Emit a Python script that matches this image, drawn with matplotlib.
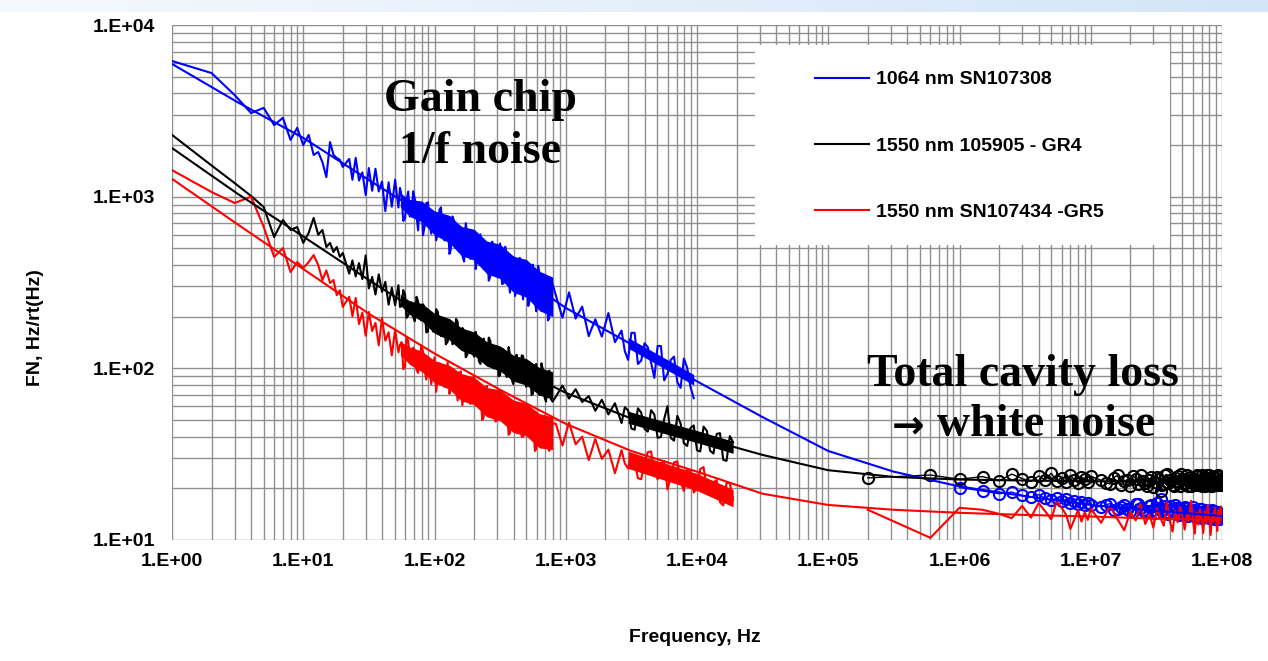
import numpy as np
import matplotlib
matplotlib.use("Agg")
import matplotlib.pyplot as plt
from matplotlib.patches import Rectangle
from matplotlib.ticker import LogLocator, NullFormatter
from matplotlib.colors import LinearSegmentedColormap

# ---- data ----
# low frequency part (1 Hz bins)
f_lo = [1, 2, 3, 4, 5, 6, 7, 8, 9, 10, 11, 12, 13, 14, 15, 16, 17, 18, 19, 20]
blue_lo = [6170, 5250, 3910, 3070, 3290, 2610, 2880, 2140, 2520, 2000,
           2290, 1750, 1820, 1590, 1300, 2080, 1750, 1680, 1640, 1490]
black_lo = [2290, 1520, 1200, 1010, 870, 582, 731, 640, 665, 538,
            615, 752, 600, 640, 509, 538, 476, 509, 446, 470]
red_lo = [1428, 1065, 919, 1000, 666, 446, 502, 364, 416, 384,
          416, 457, 400, 327, 372, 314, 327, 267, 285, 228]

# first span, up to ~800 Hz
f_mid = [22.4, 23.7, 25.1, 26.6, 28.2, 29.9, 31.6, 33.5, 35.5, 37.6,
         39.8, 42.2, 44.7, 47.3, 50.1, 53.1, 56.2, 59.6, 63.1, 66.8,
         70.8, 75.0, 79.4, 84.1, 89.1, 94.4, 100, 106, 112, 119,
         126, 133, 141, 150, 158, 168, 178, 188, 200, 211,
         224, 237, 251, 266, 282, 299, 316, 335, 355, 376,
         398, 422, 447, 473, 501, 531, 562, 596, 631, 668,
         708, 750, 794]
blue_mid = [1660, 1254, 1683, 1241, 1385, 1022, 1469, 1083, 1454, 1072,
            1225, 824, 1212, 874, 1256, 865, 1010, 745, 1072, 790,
            967, 636, 893, 674, 926, 609, 780, 616, 866, 556,
            729, 491, 722, 520, 667, 419, 602, 434, 624, 429,
            603, 379, 520, 342, 515, 354, 533, 312, 449, 276,
            445, 292, 440, 252, 388, 249, 402, 215, 355, 218,
            343, 197, 310]
black_mid = [356, 425, 343, 410, 331, 455, 292, 341, 269, 353,
             279, 319, 235, 295, 233, 305, 230, 269, 203, 243,
             188, 246, 190, 227, 164, 210, 166, 213, 154, 189,
             143, 188, 142, 187, 132, 166, 120, 162, 117, 150,
             106, 149, 108, 145, 100, 132, 91, 129, 89, 120,
             81, 120, 83, 118, 78, 108, 71, 106, 70, 99,
             64, 97, 64]
red_mid = [261, 201, 257, 181, 211, 155, 213, 165, 184, 136,
           196, 145, 162, 119, 168, 124, 142, 102, 144, 114,
           125, 94, 136, 98, 115, 81, 116, 90, 101, 78,
           108, 78, 94, 65, 96, 73, 81, 62, 89, 63,
           76, 52, 79, 58, 67, 50, 73, 51, 62, 42,
           64, 47, 54, 40, 60, 41, 51, 34, 53, 39,
           45, 33, 48]

# extra bins inside the dense part of the first span
f_mid2 = [54.6, 57.8, 61.2, 64.9, 68.8, 72.9, 77.2, 81.8, 86.6, 91.7,
          97.2, 103, 109, 116, 122, 130, 137, 146, 154, 163,
          173, 184, 194, 206, 218, 231, 245, 259, 275, 291,
          308, 327, 346, 367, 388, 411, 436, 462, 489, 518,
          549, 582, 616, 653, 692, 733, 772]
blue_mid2 = [1124, 722, 947, 766, 1076, 775, 906, 596, 918, 709,
             791, 557, 839, 605, 675, 464, 767, 516, 617, 455,
             701, 494, 591, 379, 585, 421, 481, 324, 547, 385,
             482, 310, 511, 328, 393, 264, 426, 300, 422, 231,
             355, 250, 395, 216, 310, 190, 321]
black_mid2 = [228, 286, 197, 241, 199, 261, 197, 236, 162, 208,
              164, 221, 171, 196, 138, 182, 138, 194, 144, 172,
              116, 160, 127, 163, 110, 138, 109, 151, 106, 128,
              90, 127, 99, 133, 86, 109, 84, 119, 83, 104,
              70, 104, 77, 107, 67, 89, 66]
red_mid2 = [137, 99, 150, 110, 132, 98, 114, 125, 86, 110,
            96, 73, 107, 81, 91, 71, 99.5, 79, 86, 61,
            86, 68, 88, 61, 73, 50, 76, 61, 65, 49,
            71, 52, 62, 41, 62, 51, 54, 40, 58, 43,
            48, 33, 50, 41, 53, 35, 42]

# second span 800 Hz .. 20 kHz
f_hi = [841, 944, 1059, 1189, 1334, 1496, 1679, 1884, 2113, 2371,
        2661, 2985, 3350, 3758, 4217, 4732, 5309, 5957, 6683, 7499,
        8414, 9441, 10590, 11890, 13340, 14960, 16790, 18840]
blue_hi = [266, 197, 277, 195, 229, 154, 193, 153, 210, 142,
           166, 112, 161, 111, 133, 88, 135, 93, 117, 77,
           101, 67]
black_hi = [68.4, 79.4, 66.7, 75.6, 63.6, 68.9, 56.6, 65.6, 53.9, 62.6,
            48.0, 57.0, 43.9, 55.2, 42.8, 53.8, 39.8, 60.2, 37.9, 47.7,
            35.3, 46.5, 32.8, 43.2, 31.9, 41.9, 28.9, 37.1]
red_hi = [47.5, 35.5, 48.3, 36.1, 40.0, 29.2, 38.8, 29.7, 33.6, 24.5,
          33.4, 26.1, 28.6, 22.6, 32.5, 25.1, 28.0, 19.7, 28.3, 22.0,
          25.6, 18.9, 25.9, 19.7, 21.7, 16.6, 21.5, 17.1]
f_hi2 = [2818, 3162, 3548, 3981, 4467, 5012, 5623, 6310, 7079, 7943,
         8913, 10000, 11220, 12590, 14130, 15850, 17780]
blue_hi2 = [126, 161, 106, 140, 108, 135, 85, 112, 83, 114, 78]
black_hi2 = [59.3, 44.6, 58.5, 44.4, 57.1, 39.4, 50.7, 39.3, 52.9, 36.6,
             44.9, 33.3, 45.8, 33.1, 41.5, 29.3, 40.3]
red_hi2 = [27.9, 31.7, 22.9, 28.0, 32.8, 22.6, 28.9, 23.4, 28.7, 19.3,
           25.3, 20.0, 26.6, 18.9, 22.3, 15.9, 21.5]

# solid core of the noise bands (lower / upper edge)
band_f_mid = [55, 65, 80, 100, 130, 160, 200, 250, 316, 400, 500, 630, 794]
blue_band_lo = [870, 765, 715, 598, 538, 454, 427, 356, 333, 277, 260, 217, 200]
blue_band_hi = [1046, 963, 943, 826, 778, 671, 646, 552, 528, 450, 431, 368, 340]
black_band_lo = [233, 205, 189, 160, 146, 127, 119, 103, 96.4, 84.1, 79.9, 69.8, 66.1]
black_band_hi = [270, 246, 239, 209, 195, 172, 163, 143, 135, 119, 114, 101, 95.5]
red_band_lo = [119, 105, 95.7, 82.4, 75.5, 64.6, 61.5, 52.2, 49.5, 42.2, 40.4, 34.4, 33.6]
red_band_hi = [143, 133, 126, 111, 104, 93.3, 88.9, 77.3, 75, 65.3, 62.5, 54.5, 52.1]
band_f_hi = [2985, 5000, 9441]
blue_band2_lo = [131, 105, 80]
blue_band2_hi = [151, 121, 92]
band_f_hi_b = [2985, 5000, 10000, 18840]
black_band2_lo = [47.9, 42.8, 36.9, 32.0]
black_band2_hi = [56.3, 50.2, 43.4, 37.6]
red_band2_lo = [26.1, 23.0, 19.4, 15.6]
red_band2_hi = [32.9, 28.9, 24.4, 19.7]

# RF span (circles)
f_rf = [2e5, 6e5, 1e6, 1.5e6, 2e6, 2.5e6, 3e6, 3.5e6, 4e6, 4.5e6,
        5e6, 5.5e6, 6e6, 6.5e6, 7e6, 7.5e6, 8e6, 8.5e6, 9e6, 9.5e6,
        1e7, 12e6, 14e6, 16e6, 18e6, 20e6, 22e6, 24e6, 26e6, 28e6,
        30e6, 32e6, 34e6, 36e6, 38e6, 40e6, 42e6, 44e6, 46e6, 48e6,
        50e6, 52e6, 54e6, 56e6, 58e6, 60e6, 62e6, 64e6, 66e6, 68e6,
        70e6, 72e6, 74e6, 76e6, 78e6, 80e6, 82e6, 84e6, 86e6, 88e6,
        90e6, 92e6, 94e6, 96e6, 98e6, 100e6]
black_rf = [23.0, 23.9, 22.6, 23.4, 22.1, 24.2, 22.8, 21.9, 23.6, 22.4,
            24.5, 22.0, 23.1, 21.7, 23.8, 22.5, 21.4, 23.2, 22.7, 21.8,
            23.5, 22.3, 21.2, 23.8, 22.0, 20.7, 22.8, 24.0, 21.5, 22.4,
            20.4, 23.4, 19.2, 21.3, 24.1, 22.5, 20.8, 22.2, 23.6, 20.6,
            22.6, 21.5, 23.9, 22.1, 20.5, 23.1, 21.2, 23.6, 22.0, 20.9,
            24.0, 22.4, 20.6, 22.8, 21.4, 23.8, 22.2, 20.5, 23.3, 21.7,
            22.9, 20.9, 24.0, 22.1, 21.2, 23.0]
blue_rf = [20.2, 19.3, 18.6, 19.0, 18.2, 17.8, 18.4, 17.5, 17.0, 17.6,
           16.8, 17.3, 16.5, 16.9, 16.2, 16.7, 15.9, 16.4, 16.0,
           15.6, 16.3, 15.1, 15.9, 14.8, 16.1, 15.3, 14.6, 15.8, 15.0,
           16.4, 17.4, 15.2, 14.5, 15.7, 14.9, 15.9, 14.3, 15.4, 14.7,
           15.6, 14.1, 15.0, 14.4, 15.5, 13.9, 14.8, 14.2, 15.2, 13.7,
           14.6, 14.0, 15.0, 13.6, 14.4, 13.8, 14.9, 13.4, 14.3, 13.7,
           14.6, 13.3, 14.1, 13.5, 14.2]
red_rf = [15.0, 10.3, 15.4, 15.0, 14.2, 13.4, 15.8, 13.5, 16.4, 14.7,
          13.2, 16.8, 15.4, 14.0, 11.6, 13.2, 14.9, 12.8, 14.5, 13.1,
          15.2, 12.6, 15.8, 13.2, 11.4, 14.6, 13.0, 16.2, 12.4, 14.1,
          11.8, 15.3, 13.4, 12.1, 16.6, 13.0, 11.2, 14.8, 12.7, 15.6,
          13.6, 11.5, 14.3, 12.9, 16.9, 13.1, 10.9, 14.5, 12.3, 15.1,
          13.3, 11.0, 14.7, 12.6, 16.0, 13.4, 10.7, 14.2, 12.8, 15.4,
          13.0, 11.3, 14.9, 12.5, 15.7, 13.6]
# extra RF bins between 10 and 100 MHz
f_rf2 = [13e6, 15e6, 17e6, 19e6, 21e6, 23e6, 25e6, 27e6, 29e6, 31e6,
         33e6, 35e6, 37e6, 39e6, 41e6, 43e6, 45e6, 47e6, 49e6, 51e6,
         53e6, 55e6, 57e6, 59e6, 61e6, 63e6, 65e6, 67e6, 69e6, 71e6,
         73e6, 75e6, 77e6, 79e6, 81e6, 83e6, 85e6, 87e6, 89e6, 91e6,
         93e6, 95e6, 97e6, 99e6]
black_rf2 = [21.6, 23.1, 20.8, 22.5, 23.7, 21.2, 22.0, 20.6, 23.3, 21.8,
             22.6, 20.9, 23.9, 21.4, 22.3, 20.5, 23.0, 21.9, 24.1, 21.1,
             22.7, 20.7, 23.4, 21.6, 22.2, 20.8, 23.8, 21.3, 22.5, 20.6,
             23.2, 21.8, 24.0, 21.0, 22.4, 20.7, 23.5, 21.5, 22.9, 20.9,
             23.7, 21.4, 22.3, 21.0]
blue_rf2 = [16.0, 14.9, 15.6, 15.2, 14.5, 16.2, 15.0, 14.7, 15.9, 14.4,
            15.3, 14.8, 15.7, 14.2, 15.1, 14.6, 15.4, 13.9, 14.9, 14.3,
            15.3, 13.8, 14.7, 14.1, 15.0, 13.6, 14.5, 14.0, 15.1, 13.5,
            14.4, 13.9, 14.8, 13.4, 14.2, 13.7, 14.7, 13.3, 14.1, 13.6,
            14.5, 13.2, 14.0, 13.5]

# model fits
f_fit = [1, 3.16, 10, 31.6, 100, 316, 1e3, 3.16e3, 1e4, 3.16e4,
         1e5, 3.16e5, 1e6, 3.16e6, 1e7, 3.16e7, 1e8]
blue_fit = [5930, 3550, 2200, 1250, 720, 410, 225, 138, 84, 52,
            33, 25, 20.5, 18, 16, 14.8, 13.8]
black_fit = [1920, 1040, 586, 327, 186, 112, 72, 51, 40, 31.3,
             25.5, 23.3, 22.5, 22.2, 22, 21.9, 21.8]
red_fit = [1270, 690, 379, 208, 122, 75, 47.5, 33, 25, 18.6,
           16, 15, 14.4, 14, 13.7, 13.3, 13.1]

labels = ['1064 nm SN107308', '1550 nm 105905 - GR4', '1550 nm SN107434 -GR5']
x_ticks = [1, 1e1, 1e2, 1e3, 1e4, 1e5, 1e6, 1e7, 1e8]
x_tick_labels = ['1.E+00', '1.E+01', '1.E+02', '1.E+03', '1.E+04',
                 '1.E+05', '1.E+06', '1.E+07', '1.E+08']
y_ticks = [1e1, 1e2, 1e3, 1e4]
y_tick_labels = ['1.E+01', '1.E+02', '1.E+03', '1.E+04']


def spectrum(*parts):
    # join (freq, value) pieces into one trace sorted by frequency
    f = np.concatenate([np.asarray(p[0], float) for p in parts])
    v = np.concatenate([np.asarray(p[1], float) for p in parts])
    order = np.argsort(f)
    return f[order], v[order]


W, H = 1268, 661
fig = plt.figure(figsize=(W / 100, H / 100), dpi=100)
fig.patch.set_facecolor('white')

# light blue strip at the very top
band = fig.add_axes([0, 1 - 12 / H, 1, 12 / H])
cmap = LinearSegmentedColormap.from_list('strip', ['#f6f9fd', '#d3e5f7'])
band.imshow(np.linspace(0, 1, 256)[None, :], aspect='auto', cmap=cmap)
band.axis('off')

ax = fig.add_axes([172 / W, 1 - 540 / H, 1050 / W, 515 / H])
ax.set_xscale('log')
ax.set_yscale('log')

# noise band cores
ax.fill_between(band_f_mid, blue_band_lo, blue_band_hi, color='blue', lw=0, zorder=3)
ax.fill_between(band_f_hi, blue_band2_lo, blue_band2_hi, color='blue', lw=0, zorder=3)
ax.fill_between(band_f_mid, black_band_lo, black_band_hi, color='black', lw=0, zorder=3)
ax.fill_between(band_f_hi_b, black_band2_lo, black_band2_hi, color='black', lw=0, zorder=3)
ax.fill_between(band_f_mid, red_band_lo, red_band_hi, color='red', lw=0, zorder=3)
ax.fill_between(band_f_hi_b, red_band2_lo, red_band2_hi, color='red', lw=0, zorder=3)

# measured spectra
fb, vb = spectrum((f_lo, blue_lo), (f_mid, blue_mid), (f_mid2, blue_mid2),
                  (f_hi[:len(blue_hi)], blue_hi), (f_hi2[:len(blue_hi2)], blue_hi2))
fk, vk = spectrum((f_lo, black_lo), (f_mid, black_mid), (f_mid2, black_mid2),
                  (f_hi, black_hi), (f_hi2, black_hi2))
fr, vr = spectrum((f_lo, red_lo), (f_mid, red_mid), (f_mid2, red_mid2),
                  (f_hi, red_hi), (f_hi2, red_hi2))
ax.plot(fb, vb, color='blue', lw=1.5, zorder=3)
ax.plot(fk, vk, color='black', lw=1.5, zorder=3)
ax.plot(fr, vr, color='red', lw=1.5, zorder=3)

fbr, vbr = spectrum((f_rf[2:], blue_rf), (f_rf2, blue_rf2))
fkr, vkr = spectrum((f_rf, black_rf), (f_rf2, black_rf2))
ax.plot(fbr, vbr, color='blue', lw=1.0, marker='o', ms=8,
        mfc='none', mew=1.5, zorder=3)
ax.plot(fkr, vkr, color='black', lw=1.0, marker='o', ms=8,
        mfc='none', mew=1.5, zorder=3)
ax.plot(f_rf, red_rf, color='red', lw=1.5, zorder=3)

# fits
ax.plot(f_fit, blue_fit, color='blue', lw=1.5, zorder=4, label=labels[0])
ax.plot(f_fit, black_fit, color='black', lw=1.5, zorder=4, label=labels[1])
ax.plot(f_fit, red_fit, color='red', lw=1.5, zorder=4, label=labels[2])

ax.set_xlim(1, 1e8)
ax.set_ylim(10, 1e4)
ax.set_xticks(x_ticks, x_tick_labels)
ax.set_yticks(y_ticks, y_tick_labels)
ax.xaxis.set_minor_locator(LogLocator(base=10, subs=range(2, 10), numticks=100))
ax.yaxis.set_minor_locator(LogLocator(base=10, subs=range(2, 10), numticks=100))
ax.xaxis.set_minor_formatter(NullFormatter())
ax.yaxis.set_minor_formatter(NullFormatter())
ax.grid(which='both', color='#8f8f8f', lw=1.0)
for s in ax.spines.values():
    s.set_visible(False)
ax.tick_params(which='both', length=0)
ax.tick_params(axis='y', pad=12)
ax.tick_params(axis='x', pad=9)
for lab in ax.get_xticklabels() + ax.get_yticklabels():
    lab.set_fontfamily('Liberation Sans')
    lab.set_fontweight('bold')
    lab.set_fontsize(14)

# legend box
ax.add_patch(Rectangle((0.555, 0.573), 0.395, 0.388, transform=ax.transAxes,
                       facecolor='white', edgecolor='none', zorder=5))
leg = ax.legend(loc='upper left', bbox_to_anchor=(0.612, 0.911), frameon=False,
                borderpad=0, borderaxespad=0, handlelength=2.8, handletextpad=0.35,
                labelspacing=2.5,
                prop=dict(family='Liberation Sans', weight='bold', size=14))
leg.set_zorder(6)

fig.text(35 / W, 1 - 328 / H, 'FN, Hz/rt(Hz)', rotation=90, ha='center', va='center',
         family='Liberation Sans', weight='bold', size=14)
fig.text(695 / W, 1 - 637 / H, 'Frequency, Hz', ha='center', va='center',
         family='Liberation Sans', weight='bold', size=14)

serif = ['Liberation Serif', 'DejaVu Serif']
fig.text(480 / W, 1 - 126 / H, 'Gain chip\n1/f noise', ha='center', va='center',
         family=serif, weight='bold', size=33, linespacing=1.32, zorder=10)
fig.text(1023 / W, 1 - 375 / H, 'Total cavity loss', ha='center', va='center',
         family=serif, weight='bold', size=33, zorder=10)
fig.text(908 / W, 1 - 426 / H, '\u2192', ha='center', va='center',
         family='DejaVu Sans', weight='bold', size=28, zorder=10)
fig.text(937 / W, 1 - 425 / H, 'white noise', ha='left', va='center',
         family=serif, weight='bold', size=33, zorder=10)

fig.savefig('out.png', dpi=100)
